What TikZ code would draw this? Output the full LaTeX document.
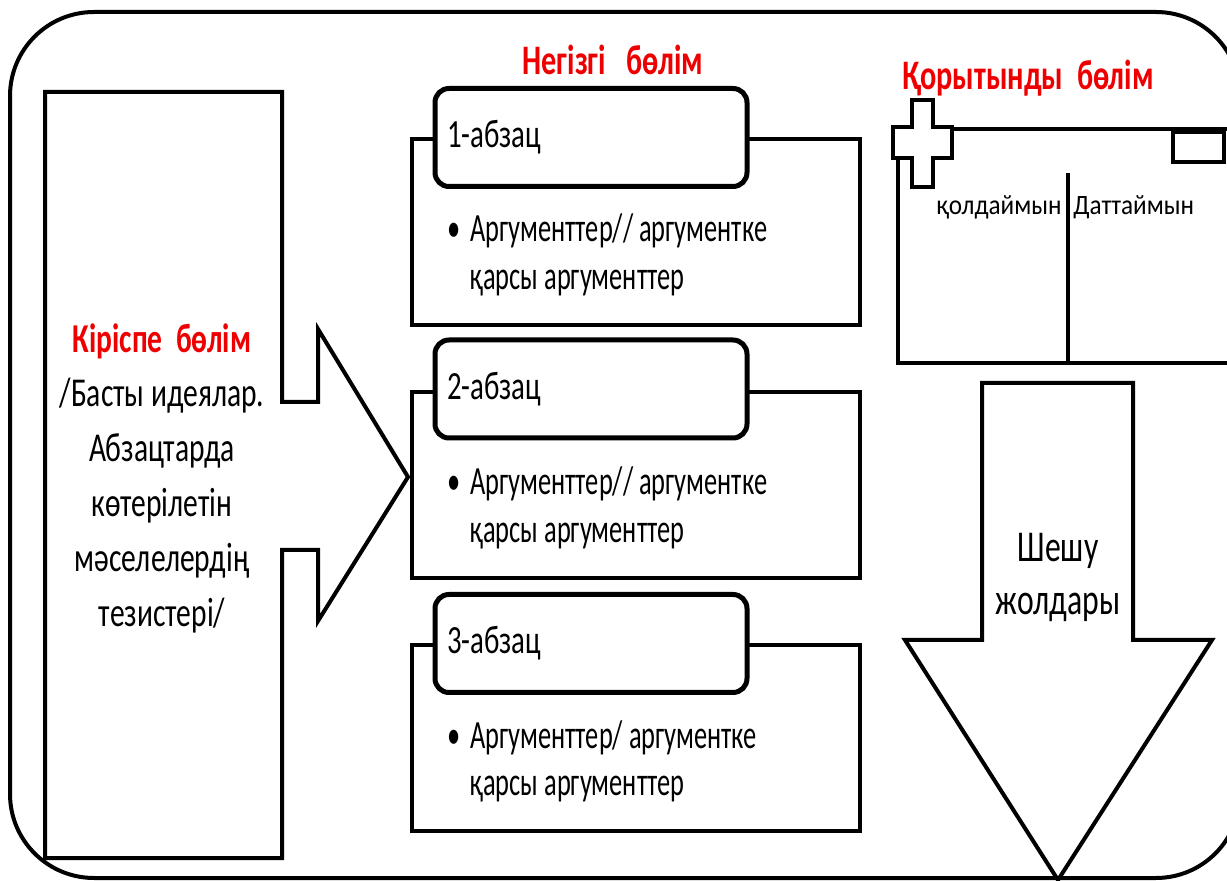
\documentclass[tikz,border=0pt]{standalone}
\usepackage{fontspec}
\setmainfont{Carlito}
\newfontfamily\narrowfont{Carlito}[FakeStretch=0.72]
\newfontfamily\argfont{Carlito}[FakeStretch=0.66]
\newfontfamily\sidefont{Carlito}[FakeStretch=0.9]
\usetikzlibrary{positioning}
\definecolor{headred}{RGB}{238,0,0}
\tikzset{
	frame/.style={
		draw=black,
		line width=2pt,
		rounded corners=42pt
	},
	outline/.style={
		draw=black,
		line width=2pt,
		line join=miter
	},
	parbox/.style={
		rectangle,
		draw=black,
		line width=2pt,
		fill=white,
		minimum width=224pt,
		minimum height=93pt
	},
	tabbox/.style={
		rectangle,
		rounded corners=7pt,
		draw=black,
		line width=2.5pt,
		fill=white,
		minimum width=156pt,
		minimum height=49pt,
		inner xsep=6pt,
		text width=144pt,
		align=left,
		font=\narrowfont\fontsize{20}{24}\selectfont
	},
	argtext/.style={
		inner sep=0pt,
		anchor=base west,
		font=\argfont\fontsize{20}{24}\selectfont
	},
	heading/.style={
		inner sep=0pt,
		text=headred,
		font=\narrowfont\bfseries\fontsize{21}{25}\selectfont
	},
	bigtext/.style={
		inner sep=0pt,
		align=center,
		font=\narrowfont\fontsize{20.5}{27.4}\selectfont
	},
	sidetext/.style={
		inner sep=0pt,
		anchor=base west,
		font=\sidefont\fontsize{14}{17}\selectfont
	},
}

\begin{document}
\begin{tikzpicture}[x=0.5pt,y=-0.5pt]
					\useasboundingbox (0,0) rectangle (1227,881);
					\clip (0,0) rectangle (1227,881);
					\draw[frame] (10,12) rectangle (1240,878);
					
					\draw[outline] (45,92) -- (282,92) -- (282,402) -- (318,402) -- (318,329) -- (408,477)
						-- (318,621) -- (318,550) -- (282,550) -- (282,858) -- (45,858) -- cycle;
					\node[bigtext] (intro) at (162,478) {{\color{headred}\bfseries Кіріспе\ \ бөлім}\\
						/Басты идеялар.\\Абзацтарда\\көтерілетін\\мәселелердің\\тезистері/};
					
					\node[heading] (mainhead) at (613,60) {Негізгі\ \ \ бөлім};
					
					\node[parbox] (p1) at (636,232) {};
					\node[tabbox] (t1) at (591,137.5) {1-абзац};
					\node[argtext] (a1) at (447,242) {\begin{tabular}[t]{@{}l@{\hspace{5pt}}l@{}}
						•&Аргументтер//\ аргументке\\&қарсы аргументтер\end{tabular}};
					
					\node[parbox] (p2) at (636,485) {};
					\node[tabbox] (t2) at (591,389) {2-абзац};
					\node[argtext] (a2) at (447,495) {\begin{tabular}[t]{@{}l@{\hspace{5pt}}l@{}}
						•&Аргументтер//\ аргументке\\&қарсы аргументтер\end{tabular}};
					
					\node[parbox] (p3) at (636,738) {};
					\node[tabbox] (t3) at (591,643.5) {3-абзац};
					\node[argtext] (a3) at (447,748) {\begin{tabular}[t]{@{}l@{\hspace{5pt}}l@{}}
						•&Аргументтер/\ аргументке\\&қарсы аргументтер\end{tabular}};
					
					\node[heading] (endhead) at (1028,78) {Қорытынды\ \ бөлім};
					\draw[outline] (898,129) rectangle (1240,363);
					\draw[outline] (1068,173) -- (1068,363);
					\draw[outline, fill=white] (912,100) -- (933,100) -- (933,127) -- (952,127) -- (952,158) -- (933,158)
						-- (933,187) -- (912,187) -- (912,158) -- (893,158) -- (893,127) -- (912,127) -- cycle;
					\draw[outline, fill=white] (1173,132) rectangle (1224,162);
					\node[sidetext, anchor=base east] (pro) at (1062,215) {қолдаймын};
					\node[sidetext, right=5.5pt of pro.base east, anchor=base west] (contra) {Даттаймын};
					
					\draw[outline] (982,383) -- (1133,383) -- (1133,640) -- (1212,640) -- (1058,880) -- (905,640)
						-- (982,640) -- cycle;
					\node[bigtext, font=\narrowfont\fontsize{22}{26.5}\selectfont] (solve) at (1058,577) {Шешу\\жолдары};
\end{tikzpicture}
\end{document}
